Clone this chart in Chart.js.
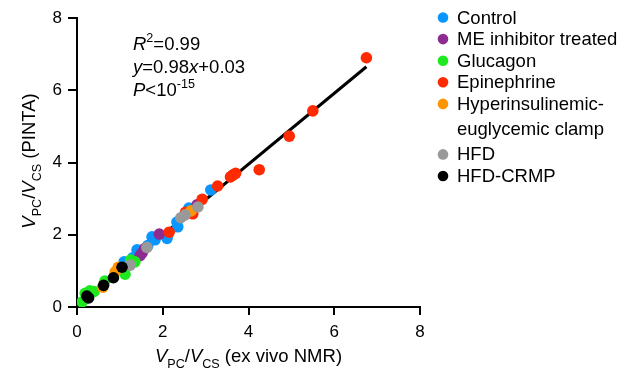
<!DOCTYPE html>
<html>
<head>
<meta charset="utf-8">
<script src="https://cdn.jsdelivr.net/npm/chart.js@4"></script>
<style>
  body { margin: 0; background: #fff; }
  #wrap { width: 630px; height: 371px; position: relative; }
</style>
</head>
<body>
<div id="wrap"><canvas id="pintaChart"></canvas></div>
<script>
// values: x = ex vivo NMR, y = PINTA
const groupNames = ['Control', 'ME inhibitor treated', 'Glucagon', 'Epinephrine',
  ['Hyperinsulinemic-', 'euglycemic clamp'], 'HFD', 'HFD-CRMP'];
const groupColors = ['#0a96ff', '#8e2b91', '#1ee81e', '#ff2a00', '#ff9500', '#999999', '#000000'];

const control = [[1.1, 1.25], [1.3, 1.36], [1.4, 1.58], [1.43, 1.44], [1.65, 1.7], [1.75, 1.94],
  [1.82, 1.86], [2.1, 1.9], [2.33, 2.35], [2.35, 2.22], [2.61, 2.74], [3.12, 3.24]];
const meInhibitor = [[1.47, 1.42], [1.52, 1.5], [1.58, 1.62], [1.92, 2.02], [2.8, 2.83]];
const glucagon = [[0.12, 0.14], [0.19, 0.38], [0.3, 0.45], [0.4, 0.43], [0.65, 0.72],
  [1.12, 0.91], [1.25, 1.3], [1.35, 1.25]];
const epinephrine = [[2.15, 2.07], [2.53, 2.62], [2.7, 2.58], [2.92, 2.98], [3.28, 3.35],
  [3.58, 3.6], [3.63, 3.65], [3.7, 3.7], [4.25, 3.8], [4.95, 4.73], [5.5, 5.43], [6.75, 6.9]];
const clamp = [[0.6, 0.55], [0.89, 0.97], [0.96, 1.1], [2.66, 2.66]];
const hfd = [[1.24, 1.16], [1.63, 1.65], [2.42, 2.47], [2.52, 2.55], [2.82, 2.77]];
const hfdCrmp = [[0.23, 0.3], [0.27, 0.25], [0.62, 0.6], [0.85, 0.81], [1.05, 1.1]];

// fitted line endpoints (y = 0.98x + 0.03)
const fitLine = [[0.1, 0.13], [6.75, 6.65]];
const axisTicks = [0, 2, 4, 6, 8];

const groups = [control, meInhibitor, glucagon, epinephrine, clamp, hfd, hfdCrmp];
const FONT = "'Liberation Sans', Arial, sans-serif";
const TXT = 18.5;

const toXY = arr => arr.map(p => ({ x: p[0], y: p[1] }));

const datasets = groups.map((g, i) => ({
  type: 'scatter',
  data: toXY(g),
  backgroundColor: groupColors[i],
  borderWidth: 0,
  pointRadius: 5.8,
  order: 7 - i
}));
datasets.push({
  type: 'line',
  data: toXY(fitLine),
  borderColor: '#000',
  borderWidth: 3,
  pointRadius: 0,
  order: 10
});

// draw a line of text made of runs (italic / sub / sup)
function drawRuns(ctx, runs, x, y, size, align) {
  const fontFor = r => (r.it ? 'italic ' : '') + (r.sub || r.sup ? size * 0.68 : size) + 'px ' + FONT;
  let total = 0;
  runs.forEach(r => { ctx.font = fontFor(r); total += ctx.measureText(r.t).width; });
  let cx = align === 'center' ? x - total / 2 : x;
  ctx.textAlign = 'left';
  ctx.textBaseline = 'alphabetic';
  runs.forEach(r => {
    ctx.font = fontFor(r);
    let dy = r.sub ? size * 0.3 : (r.sup ? -size * 0.42 : 0);
    ctx.fillText(r.t, cx, y + dy);
    cx += ctx.measureText(r.t).width;
  });
}

const textPlugin = {
  id: 'textPlugin',
  afterDraw(chart) {
    const ctx = chart.ctx;
    const area = chart.chartArea;
    ctx.save();
    ctx.fillStyle = '#000';

    // stats box
    drawRuns(ctx, [{ t: 'R', it: true }, { t: '2', sup: true }, { t: '=0.99' }], 133, 50, TXT);
    drawRuns(ctx, [{ t: 'y', it: true }, { t: '=0.98' }, { t: 'x', it: true }, { t: '+0.03' }], 133, 73, TXT);
    drawRuns(ctx, [{ t: 'P', it: true }, { t: '<10' }, { t: '-15', sup: true }], 133, 96, TXT);

    // axis titles
    const ratio = [{ t: 'V', it: true }, { t: 'PC', sub: true }, { t: '/' }, { t: 'V', it: true }, { t: 'CS', sub: true }];
    drawRuns(ctx, ratio.concat([{ t: ' (ex vivo NMR)' }]), (area.left + area.right) / 2, 362, TXT, 'center');
    ctx.save();
    ctx.translate(35, 161);
    ctx.rotate(-Math.PI / 2);
    drawRuns(ctx, ratio.concat([{ t: ' (PINTA)' }]), 0, 0, TXT, 'center');
    ctx.restore();

    // legend
    let ly = 17.5;
    groupNames.forEach((name, i) => {
      const lines = Array.isArray(name) ? name : [name];
      ctx.beginPath();
      ctx.fillStyle = groupColors[i];
      ctx.arc(443, ly, 5.3, 0, Math.PI * 2);
      ctx.fill();
      ctx.fillStyle = '#000';
      ctx.font = TXT + 'px ' + FONT;
      ctx.textAlign = 'left';
      ctx.textBaseline = 'middle';
      lines.forEach((l, k) => ctx.fillText(l, 457, ly + 1 + k * 25.5));
      ly += lines.length > 1 ? 50.5 : 21.6;
    });
    ctx.restore();
  }
};

const axisOpts = (tickLen, pad) => ({
  type: 'linear',
  min: 0,
  max: 8,
  afterBuildTicks: scale => { scale.ticks = axisTicks.map(v => ({ value: v })); },
  ticks: { color: '#000', font: { family: FONT, size: 17 }, padding: pad },
  grid: { drawOnChartArea: false, drawTicks: true, tickLength: tickLen, color: '#000', lineWidth: 2 },
  border: { display: true, color: '#000', width: 2 }
});

const xAxis = axisOpts(8, 7);
xAxis.afterFit = scale => { scale.height = 64; };
const yAxis = axisOpts(9, 6);
yAxis.afterFit = scale => { scale.width = 77; };

new Chart(document.getElementById('pintaChart').getContext('2d'), {
  data: { datasets: datasets },
  options: {
    responsive: true,
    maintainAspectRatio: false,
    animation: false,
    layout: { padding: { top: 18, right: 210, left: 0, bottom: 0 } },
    scales: { x: xAxis, y: yAxis },
    plugins: { legend: { display: false }, tooltip: { enabled: false } }
  },
  plugins: [textPlugin]
});
</script>
</body>
</html>
